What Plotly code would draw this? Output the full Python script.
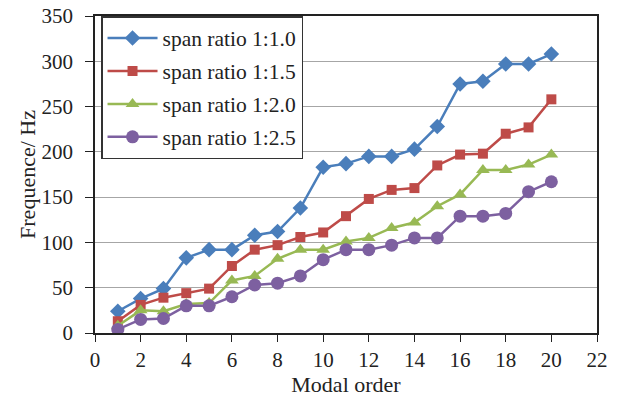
import plotly.graph_objects as go

modal_order = list(range(1, 21))
span_1_0 = [24, 38, 49, 83, 92, 92, 108, 112, 138, 183, 187, 195, 195, 203, 228, 275, 278, 297, 297, 308]
span_1_5 = [13, 31, 39, 44, 49, 74, 92, 97, 106, 111, 129, 148, 158, 160, 185, 197, 198, 220, 227, 258]
span_2_0 = [8, 25, 24, 32, 33, 58, 63, 82, 92, 92, 101, 105, 116, 122, 140, 153, 180, 180, 186, 197]
span_2_5 = [4, 15, 16, 30, 30, 40, 53, 55, 63, 81, 92, 92, 97, 105, 105, 129, 129, 132, 156, 167]

series_names = ["span ratio 1:1.0", "span ratio 1:1.5", "span ratio 1:2.0", "span ratio 1:2.5"]
x_ticks = list(range(0, 23, 2))
y_ticks = list(range(0, 351, 50))

series = [span_1_0, span_1_5, span_2_0, span_2_5]
colors = ["#4A7EBB", "#BE4B48", "#98B954", "#7D60A0"]
symbols = ["diamond", "square", "triangle-up", "circle"]
sizes = [12, 10, 12, 13]

fig = go.Figure()
for i, (name, vals) in enumerate(zip(series_names, series)):
    fig.add_trace(go.Scatter(
        x=modal_order, y=vals, name=name, mode="lines+markers",
        line=dict(color=colors[i], width=2.5),
        marker=dict(symbol=symbols[i], size=sizes[i], color=colors[i]),
        legendgroup=str(i),
    ))

font_family = "Liberation Serif, Times New Roman, serif"
fig.update_layout(
    width=617, height=403,
    margin=dict(l=95, r=20, t=16, b=70, autoexpand=False),
    paper_bgcolor="white", plot_bgcolor="white",
    font=dict(family=font_family, size=21, color="#222222"),
    showlegend=True,
    legend=dict(
        x=0.012, y=1.0, xanchor="left", yanchor="top",
        bordercolor="#333333", borderwidth=1.5, bgcolor="white",
        font=dict(family=font_family, size=21.5, color="#222222"),
        traceorder="grouped", tracegroupgap=2, itemwidth=50,
    ),
    xaxis=dict(
        range=[0, 22], tickvals=x_ticks, ticktext=[str(v) for v in x_ticks],
        showgrid=False, zeroline=False, automargin=False,
        showline=True, linecolor="#222222", linewidth=1.5, mirror=True,
        ticks="outside", ticklen=7, tickcolor="#222222",
        tickfont=dict(size=21),
        title=dict(text="Modal order", font=dict(size=22), standoff=6),
    ),
    yaxis=dict(
        range=[0, 350], tickvals=y_ticks, ticktext=[str(v) for v in y_ticks],
        showgrid=True, gridcolor="#A6A6A6", gridwidth=1.2, zeroline=False, automargin=False,
        showline=True, linecolor="#222222", linewidth=1.5, mirror=True,
        ticks="outside", ticklen=8, tickcolor="#222222", ticklabelstandoff=8,
        ticklabeloverflow="allow",
        tickfont=dict(size=21),
        title=dict(text="Frequence/ Hz", font=dict(size=22), standoff=0),
    ),
)

fig.write_html("out.html", config={"displayModeBar": False},
               post_script="document.body.style.margin='0';")
